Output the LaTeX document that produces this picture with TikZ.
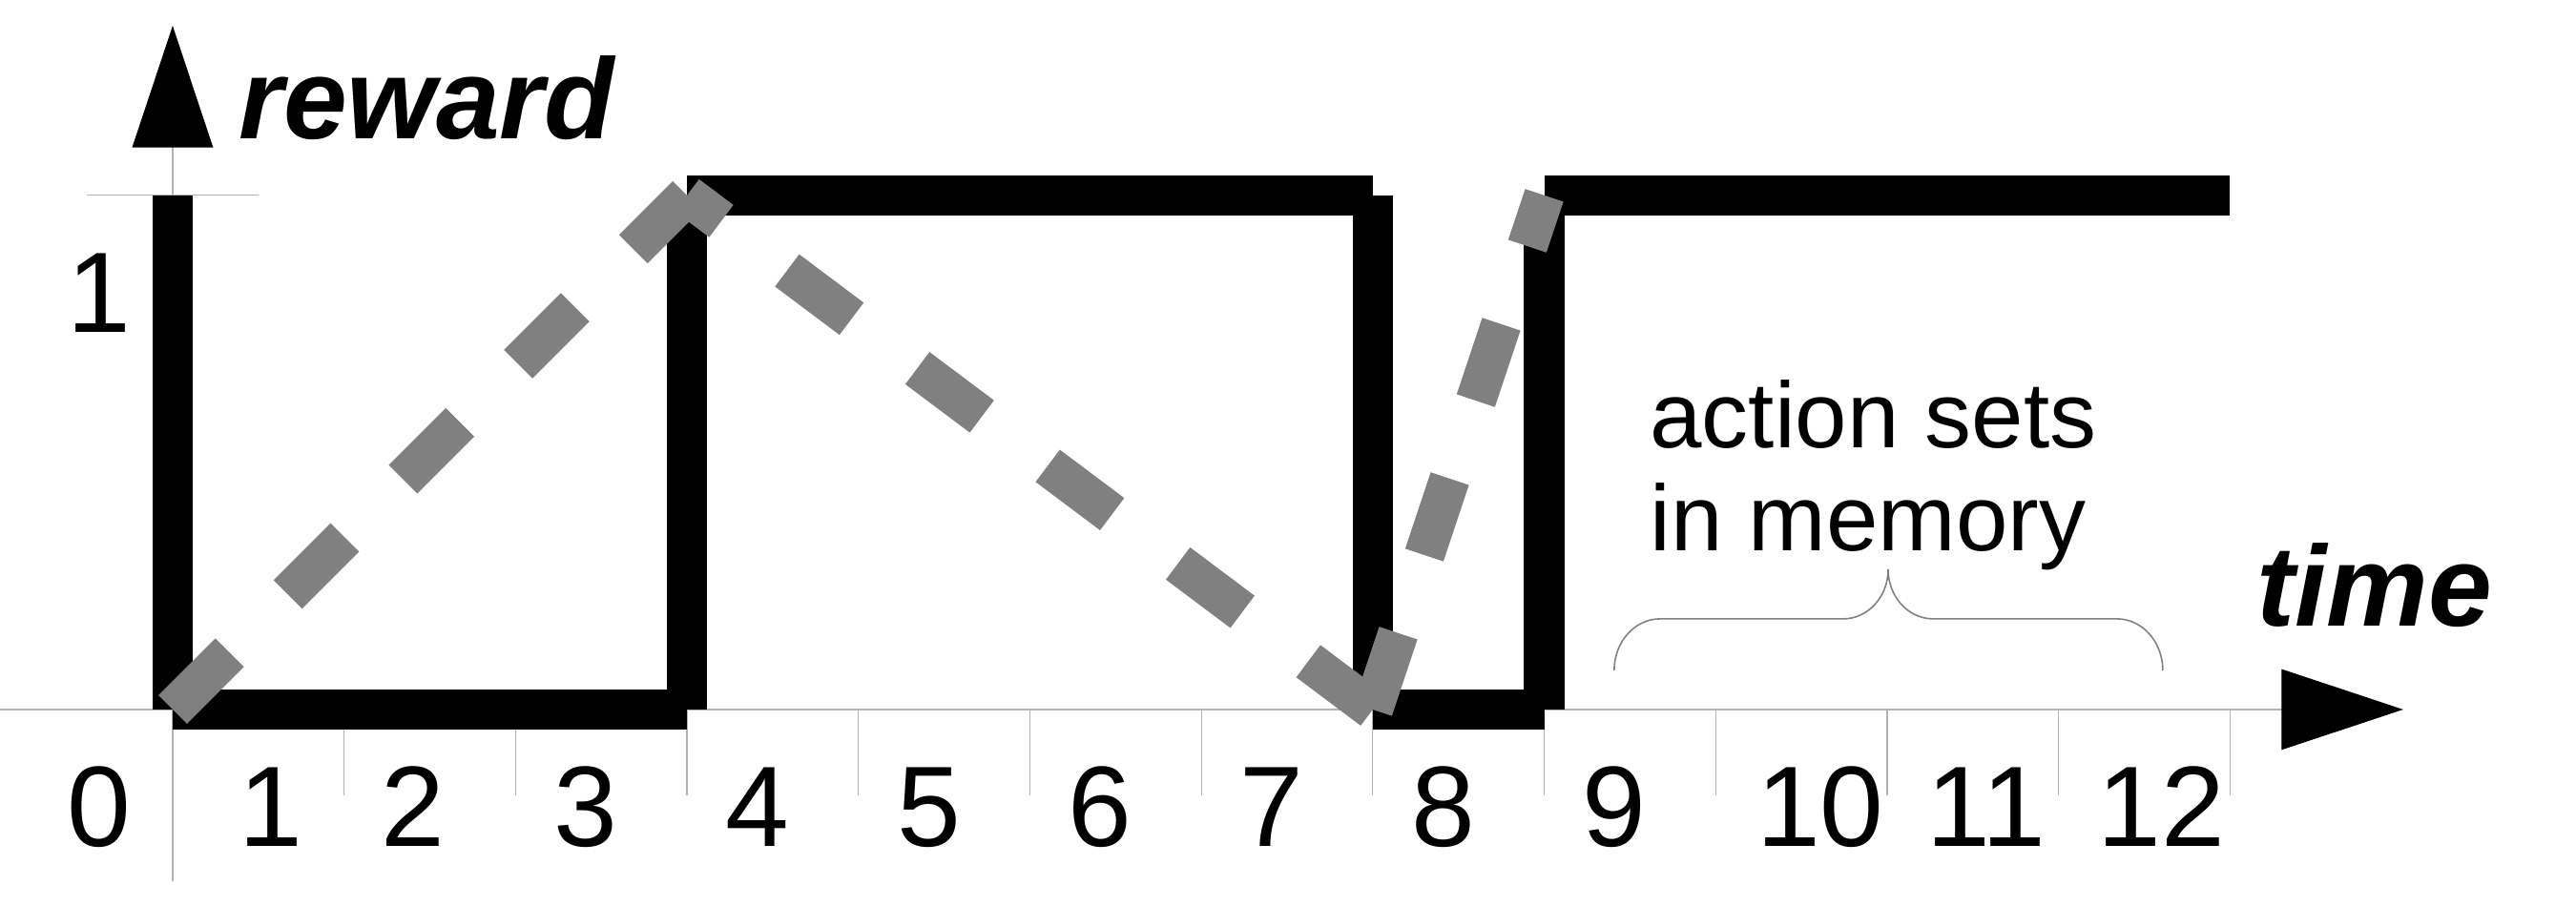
\documentclass[tikz,border=0pt]{standalone}
\usepackage{fontspec}
\setmainfont{Liberation Sans}
\usepackage{tikz}
\usetikzlibrary{arrows.meta}

\tikzset{
  axisline/.style={line width=0.2pt, black!30},
  axistip/.style={-{Triangle[length=0.71cm, width=0.47cm, color=black]}},
  rewardline/.style={line width=0.235cm, black},
  estline/.style={line width=0.235cm, gray, dash pattern=on 0.47cm off 0.48cm},
  numlabel/.style={inner sep=0pt, anchor=base, font=\fontsize{19}{22}\selectfont},
  axislabel/.style={inner sep=0pt, anchor=base west, font=\fontsize{19}{22}\selectfont\bfseries\itshape},
  memlabel/.style={inner sep=0pt, anchor=base west, font=\fontsize{15.5}{18}\selectfont},
}

\begin{document}
\begin{tikzpicture}
  \useasboundingbox (-1.007,-1.146) rectangle (14.018,4.140);

  % Define coordinates
  \coordinate (xstart) at (-1.007,0);
  \coordinate (xend) at (13.01,0);
  \coordinate (ystart) at (0,-1.0);
  \coordinate (yend) at (0,3.99);
  \coordinate (p0) at (0,3);
  \coordinate (p1) at (0,0);
  \coordinate (p2) at (3,0);
  \coordinate (p3) at (3,3);
  \coordinate (p4) at (7,3);
  \coordinate (p5) at (7,0);
  \coordinate (p6) at (8,0);
  \coordinate (p7) at (8,3);
  \coordinate (p8) at (12,3);

  % Axes and ticks
  \draw[axisline, axistip] (xstart) -- (xend);
  \draw[axisline, axistip] (ystart) -- (yend);
  \draw[axisline] (-0.5,3) -- (0.5,3);
  \foreach \t in {1,...,12}
    \draw[axisline] (\t,0) -- (\t,-0.5);

  % Reward steps
  \foreach \i [evaluate=\i as \j using int(\i+1)] in {0,...,7}
    \draw[rewardline] (p\i) -- (p\j);

  % Estimate
  \draw[estline] (p1) -- (p3);
  \draw[estline] (p5) -- (p3);
  \draw[estline] (p5) -- (p7);

  % Labels
  \node[axislabel] (reward) at (0.38,3.331) {reward};
  \node[axislabel] (time) at (12.15,0.484) {time};
  \node[numlabel] (one) at (-0.43,2.198) {1};
  \foreach \x/\n in {-0.43/0, 0.57/1, 1.40/2, 2.41/3, 3.41/4, 4.41/5, 5.41/6,
                     6.41/7, 7.41/8, 8.41/9, 9.61/10, 10.58/11, 11.60/12}
    \node[numlabel] (t\n) at (\x,-0.801) {\n};
  \node[memlabel] (sets) at (8.61,1.53) {action sets};
  \node[memlabel] (memory) at (8.61,0.924) {in memory};

  % Brace
  \draw[gray, line width=0.25pt] (8.408,0.228)
    arc[start angle=180, end angle=90, x radius=0.268, y radius=0.301] -- (9.744,0.529)
    arc[start angle=270, end angle=360, x radius=0.262, y radius=0.289]
    arc[start angle=180, end angle=270, x radius=0.262, y radius=0.289] -- (11.34,0.529)
    arc[start angle=90, end angle=0, x radius=0.268, y radius=0.301];
\end{tikzpicture}
\end{document}
